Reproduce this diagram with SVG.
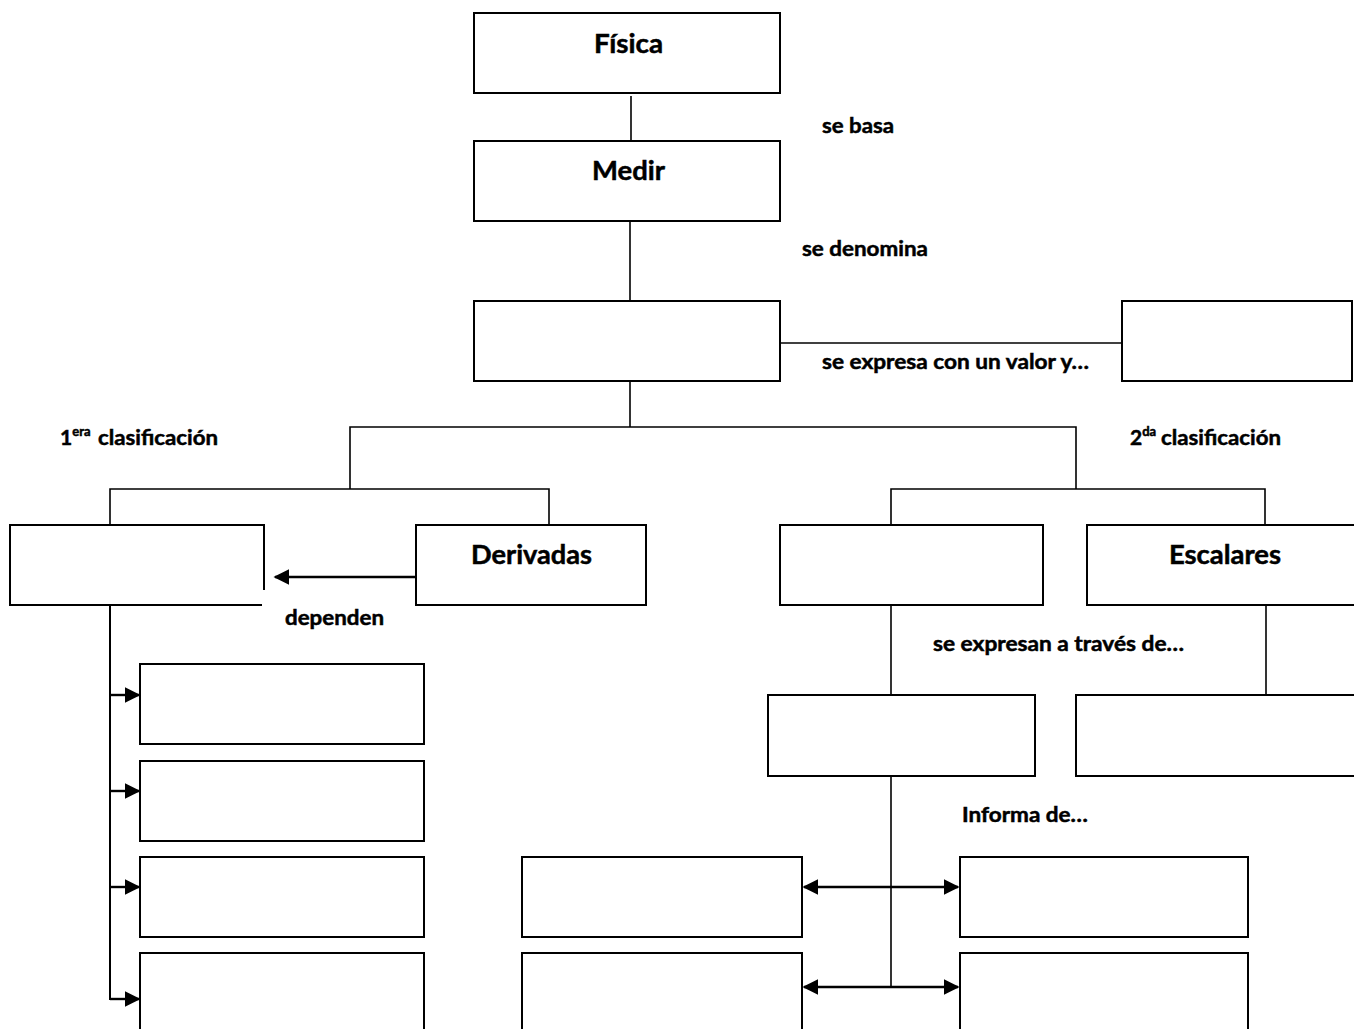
<svg xmlns="http://www.w3.org/2000/svg" width="1354" height="1029" viewBox="0 0 1354 1029">
<style>
.box{fill:#fff;stroke:#000;stroke-width:2}
.ln{fill:none;stroke:#000;stroke-width:1.6}
.ar{fill:none;stroke:#000;stroke-width:2.4}
.t{font-family:Lato,"Open Sans",sans-serif;font-weight:bold;fill:#000;stroke:#000;stroke-width:0.5}
.title{font-size:27px}
.lab{font-size:21px}
.sup{font-size:13px}
</style>
<defs>
<marker id="ah" viewBox="0 0 10 10" refX="9" refY="5" markerWidth="6.5" markerHeight="6.5" orient="auto-start-reverse" markerUnits="strokeWidth">
<path d="M0,0 L10,5 L0,10 Z" fill="#000"/>
</marker>
</defs>
<rect width="1354" height="1029" fill="#fff"/>
<g id="connectors">
<line class="ln" x1="631" y1="96" x2="631" y2="140"/>
<line class="ln" x1="630" y1="222" x2="630" y2="301"/>
<line class="ln" x1="780" y1="343" x2="1122" y2="343"/>
<polyline class="ln" points="630,381 630,427"/>
<polyline class="ln" points="350,489 350,427 1076,427 1076,489"/>
<polyline class="ln" points="110,525 110,489 549,489 549,525"/>
<polyline class="ln" points="891,525 891,489 1265,489 1265,525"/>
<line class="ar" x1="416" y1="577" x2="275" y2="577" marker-end="url(#ah)"/>
<line class="ln" x1="110" y1="605" x2="110" y2="1000" style="stroke-width:2"/>
<line class="ar" x1="110" y1="695" x2="139" y2="695" marker-end="url(#ah)"/>
<line class="ar" x1="110" y1="791" x2="139" y2="791" marker-end="url(#ah)"/>
<line class="ar" x1="110" y1="887" x2="139" y2="887" marker-end="url(#ah)"/>
<line class="ar" x1="110" y1="999" x2="139" y2="999" marker-end="url(#ah)"/>
<line class="ln" x1="891" y1="605" x2="891" y2="695"/>
<line class="ln" x1="1266" y1="605" x2="1266" y2="695"/>
<line class="ln" x1="891" y1="776" x2="891" y2="987"/>
<line class="ar" x1="804" y1="887" x2="958" y2="887" marker-start="url(#ah)" marker-end="url(#ah)"/>
<line class="ar" x1="804" y1="987" x2="958" y2="987" marker-start="url(#ah)" marker-end="url(#ah)"/>
</g>
<g id="fisica"><rect class="box" x="474" y="13" width="306" height="80"/><text class="t title" x="594" y="53" textLength="69" lengthAdjust="spacingAndGlyphs">Física</text></g>
<g id="medir"><rect class="box" x="474" y="141" width="306" height="80"/><text class="t title" x="592" y="180" textLength="73" lengthAdjust="spacingAndGlyphs">Medir</text></g>
<g id="magnitud"><rect class="box" x="474" y="301" width="306" height="80"/></g>
<g id="unidad"><rect class="box" x="1122" y="301" width="230" height="80"/></g>
<g id="fundamentales"><path class="box" d="M264,590 V525 H10 V605 H262"/></g>
<g id="derivadas"><rect class="box" x="416" y="525" width="230" height="80"/><text class="t title" x="471" y="564" textLength="121" lengthAdjust="spacingAndGlyphs">Derivadas</text></g>
<g id="vectoriales"><rect class="box" x="780" y="525" width="263" height="80"/></g>
<g id="escalares"><rect class="box" x="1087" y="525" width="280" height="80"/><text class="t title" x="1169" y="564" textLength="112" lengthAdjust="spacingAndGlyphs">Escalares</text></g>
<g id="vector"><rect class="box" x="768" y="695" width="267" height="81"/></g>
<g id="numero"><rect class="box" x="1076" y="695" width="290" height="81"/></g>
<g id="f1"><rect class="box" x="140" y="664" width="284" height="80"/></g>
<g id="f2"><rect class="box" x="140" y="761" width="284" height="80"/></g>
<g id="f3"><rect class="box" x="140" y="857" width="284" height="80"/></g>
<g id="f4"><rect class="box" x="140" y="953" width="284" height="90"/></g>
<g id="v1"><rect class="box" x="522" y="857" width="280" height="80"/></g>
<g id="v2"><rect class="box" x="522" y="953" width="280" height="90"/></g>
<g id="v3"><rect class="box" x="960" y="857" width="288" height="80"/></g>
<g id="v4"><rect class="box" x="960" y="953" width="288" height="90"/></g>
<g id="labels">
<text class="t lab" x="822" y="133" textLength="72" lengthAdjust="spacingAndGlyphs">se basa</text>
<text class="t lab" x="802" y="256" textLength="126" lengthAdjust="spacingAndGlyphs">se denomina</text>
<text class="t lab" x="822" y="369" textLength="267" lengthAdjust="spacingAndGlyphs">se expresa con un valor y…</text>
<text class="t lab" x="60" y="445">1<tspan class="sup" dy="-9">era</tspan></text>
<text class="t lab" x="98" y="445" textLength="120" lengthAdjust="spacingAndGlyphs">clasificación</text>
<text class="t lab" x="1130" y="445">2<tspan class="sup" dy="-9">da</tspan></text>
<text class="t lab" x="1161" y="445" textLength="120" lengthAdjust="spacingAndGlyphs">clasificación</text>
<text class="t lab" x="285" y="625" textLength="99" lengthAdjust="spacingAndGlyphs">dependen</text>
<text class="t lab" x="933" y="651" textLength="251" lengthAdjust="spacingAndGlyphs">se expresan a través de…</text>
<text class="t lab" x="962" y="822" textLength="126" lengthAdjust="spacingAndGlyphs">Informa de…</text>
</g>
</svg>
